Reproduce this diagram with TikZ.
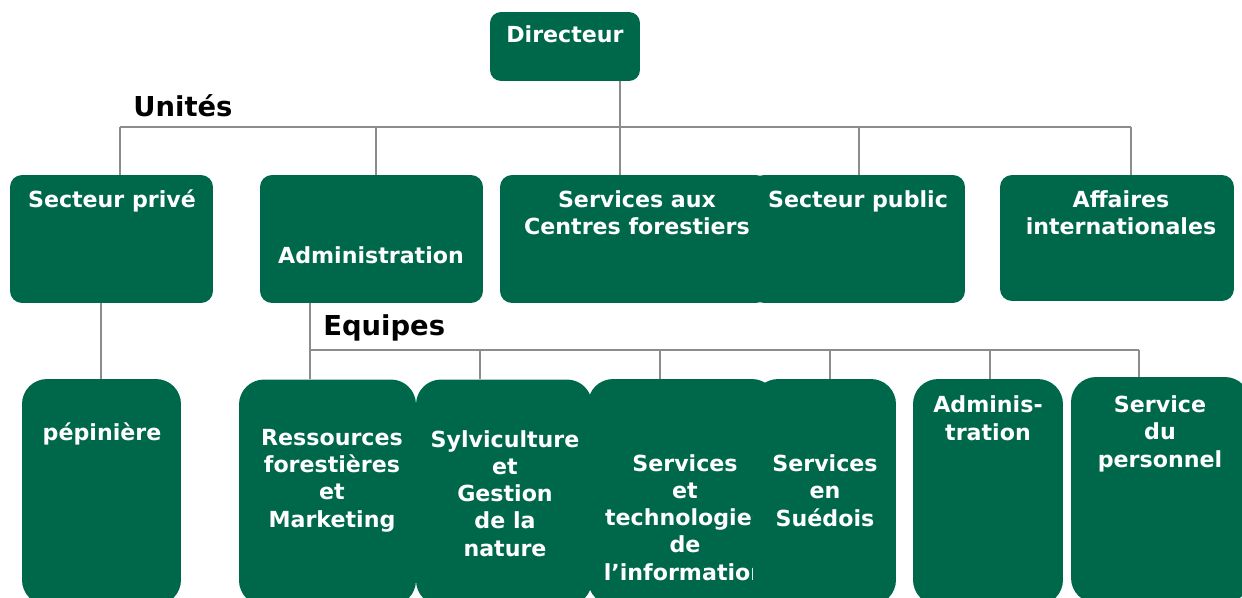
\documentclass[tikz,border=0pt]{standalone}
\usepackage{fontspec}
\setmainfont{DejaVu Sans}
\definecolor{fgreen}{RGB}{0,104,74}
\definecolor{lgray}{RGB}{140,140,140}
\tikzset{
	unit/.style={fill=fgreen,rounded corners=2.4mm,inner sep=0pt},
	team/.style={fill=fgreen,rounded corners=5mm,inner sep=0pt,minimum height=45.2mm},
	txt/.style={text=white,font=\bfseries\fontsize{12.6}{15.4}\selectfont,align=center,inner sep=0pt,anchor=base},
	hdr/.style={font=\bfseries\fontsize{15.6}{18}\selectfont,inner sep=0pt,anchor=base west},
	link/.style={draw=lgray,line width=1.1pt}
}
\begin{document}
\begin{tikzpicture}[x=0.02cm,y=-0.02cm]
\useasboundingbox (0,0) rectangle (1242,598);
\clip (0,0) rectangle (1242,598);
% text nodes sit on the baseline of their last line
\node[unit,rounded corners=2.2mm,minimum width=30mm,minimum height=13.8mm] (dir) at (565,46.5) {};
\node[txt] (tdir) at (565,43) {Directeur};
\node[hdr] (unites) at (133,117) {Unités};
\begin{scope}[every node/.append style={minimum height=25.6mm}]
	\node[unit,minimum width=40.6mm] (prive) at (111.5,239) {};
	\node[txt] (tprive) at (112,208) {Secteur privé};
	\node[unit,minimum width=44.6mm] (adm) at (371.5,239) {};
	\node[txt] (tadm) at (371,263) {Administration};
	\node[unit,minimum width=53.6mm] (svc) at (634,239) {};
	\node[txt] (tsvc) at (637,235) {Services aux\\Centres forestiers};
	\node[unit,minimum width=42.6mm] (pub) at (858.5,239) {};
	\node[txt] (tpub) at (858,208) {Secteur public};
	\node[unit,minimum width=46.8mm,minimum height=25.2mm] (aff) at (1117,238) {};
	\node[txt] (taff) at (1121,235) {Affaires\\internationales};
\end{scope}
\node[hdr] (equipes) at (323,336) {Equipes};
\node[team,minimum width=31.8mm] (pep) at (101.5,492) {};
\node[txt] (tpep) at (102,440) {pépinière};
\node[team,minimum width=35.4mm] (ress) at (327.5,492.5) {};
\node[txt] (tress) at (332,527) {Ressources\\forestières\\et\\Marketing};
\node[team,minimum width=35.2mm] (sylv) at (504,492.5) {};
\node[txt] (tsylv) at (505,556) {Sylviculture\\et\\Gestion\\de la\\nature};
\node[team,minimum width=37.8mm] (tech) at (682.5,492) {};
\node[txt] (ttech) at (685,580) {Services\\et\\technologies\\de\\l’information};
\node[team,minimum width=28.6mm] (sued) at (824.5,492) {};
\node[txt] (tsued) at (825,526) {Services\\en\\Suédois};
\node[team,minimum width=30mm] (admt) at (988,492) {};
\node[txt] (tadmt) at (988,440) {Adminis-\\tration};
\node[team,minimum width=35.8mm] (pers) at (1160.5,490) {};
\node[txt] (tpers) at (1160,467) {Service\\du\\personnel};
\coordinate (ubus) at (620,127);
\coordinate (ebus) at (310,350);
\draw[link] (dir.south -| ubus) -- (ubus |- svc.north);
\draw[link] (ubus -| 120,0) -- (ubus -| 1131,0);
\foreach \b/\x in {prive/120,adm/376,pub/859,aff/1131}
	\draw[link] (ubus -| \x,0) -- (\x,0 |- \b.north);
\draw[link] (prive.south -| 101,0) -- (101,0 |- pep.north);
\draw[link] (adm.south -| ebus) -- (ebus |- ress.north);
\draw[link] (ebus) -- (ebus -| 1139,0);
\foreach \b/\x in {sylv/480,tech/660,sued/830,admt/990,pers/1139}
	\draw[link] (ebus -| \x,0) -- (\x,0 |- \b.north);
\end{tikzpicture}
\end{document}
